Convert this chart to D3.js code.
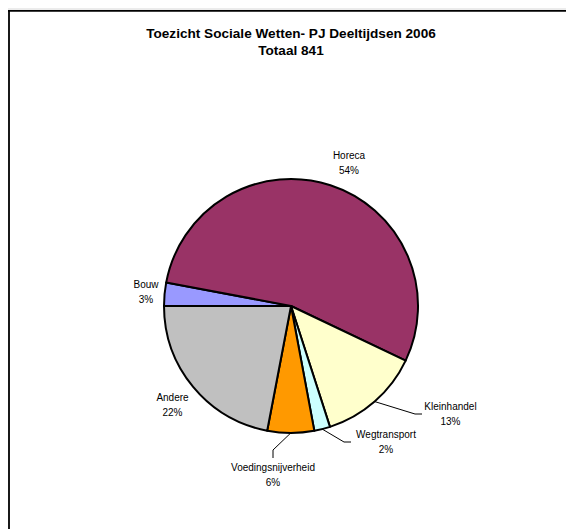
<!DOCTYPE html>
<html>
<head>
<meta charset="utf-8">
<script src="https://cdn.jsdelivr.net/npm/d3@7"></script>
<style>
  html, body { margin: 0; padding: 0; background: #fff; }
  svg { display: block; }
  text { font-family: "Liberation Sans", Arial, sans-serif; }
</style>
</head>
<body>
<svg id="chart" width="566" height="529"></svg>
<script>
// ---- data ----
const titleLines = ["Toezicht Sociale Wetten- PJ Deeltijdsen 2006", "Totaal 841"];
const categories = ["Bouw", "Horeca", "Kleinhandel", "Wegtransport", "Voedingsnijverheid", "Andere"];
const values = [25, 455, 109, 17, 50, 185];
const colors = ["#9999FF", "#993366", "#FFFFCC", "#CCFFFF", "#FF9900", "#C0C0C0"];

// ---- layout (label centre positions, leader style) ----
const layout = {
  cx: 291, cy: 306, r: 127,
  labels: {
    "Bouw":               { x: 146, y: 284, leader: null },
    "Horeca":             { x: 349, y: 155, leader: null },
    "Kleinhandel":        { x: 450.5, y: 406, leader: { elbow: [415, 414], end: [422, 414] } },
    "Wegtransport":       { x: 386, y: 434, leader: { elbow: [344, 442], end: [351, 442] } },
    "Voedingsnijverheid": { x: 273, y: 467, leader: { elbow: [273, 450], end: [273, 458] } },
    "Andere":             { x: 172.5, y: 397, leader: null }
  }
};

const svg = d3.select("#chart");

// frame
svg.append("line").attr("x1", 8).attr("x2", 566).attr("y1", 9).attr("y2", 9)
  .attr("stroke", "#d8d8d8").attr("stroke-width", 1);
svg.append("line").attr("x1", 8).attr("x2", 566).attr("y1", 10.8).attr("y2", 10.8)
  .attr("stroke", "#000").attr("stroke-width", 1.8);
svg.append("line").attr("x1", 9).attr("x2", 9).attr("y1", 10).attr("y2", 529)
  .attr("stroke", "#000").attr("stroke-width", 1.8);

// title
svg.selectAll("text.title").data(titleLines).join("text")
  .attr("class", "title")
  .attr("x", 291).attr("y", (d, i) => 38.3 + i * 16.6)
  .attr("text-anchor", "middle")
  .attr("font-size", "13.6px").attr("font-weight", "bold").attr("fill", "#000")
  .text(d => d);

// pie
const data = categories.map((c, i) => ({ name: c, value: values[i], color: colors[i] }));
const total = d3.sum(values);
const pie = d3.pie().value(d => d.value).sort(null)
  .startAngle(Math.PI * 1.5).endAngle(Math.PI * 3.5);
const arcs = pie(data);
const arc = d3.arc().innerRadius(0).outerRadius(layout.r);

const g = svg.append("g").attr("transform", `translate(${layout.cx},${layout.cy})`);
g.selectAll("path").data(arcs).join("path")
  .attr("d", arc)
  .attr("fill", d => d.data.color)
  .attr("stroke", "#000").attr("stroke-width", 2).attr("stroke-linejoin", "round");

// leader lines
arcs.forEach(a => {
  const L = layout.labels[a.data.name];
  if (!L.leader) return;
  const mid = (a.startAngle + a.endAngle) / 2;
  const sx = layout.cx + layout.r * Math.sin(mid);
  const sy = layout.cy - layout.r * Math.cos(mid);
  svg.append("polyline")
    .attr("points", [[sx, sy], L.leader.elbow, L.leader.end].map(p => p.join(",")).join(" "))
    .attr("fill", "none").attr("stroke", "#000").attr("stroke-width", 1);
});

// labels
const fmt = d => Math.round(d.value / total * 100) + "%";
arcs.forEach(a => {
  const L = layout.labels[a.data.name];
  const t = svg.append("text").attr("text-anchor", "middle")
    .attr("font-size", "10px").attr("fill", "#000");
  t.append("tspan").attr("x", L.x).attr("y", L.y + 3.6).text(a.data.name);
  t.append("tspan").attr("x", L.x).attr("y", L.y + 3.6 + 15.5).text(fmt(a.data));
});
</script>
</body>
</html>
